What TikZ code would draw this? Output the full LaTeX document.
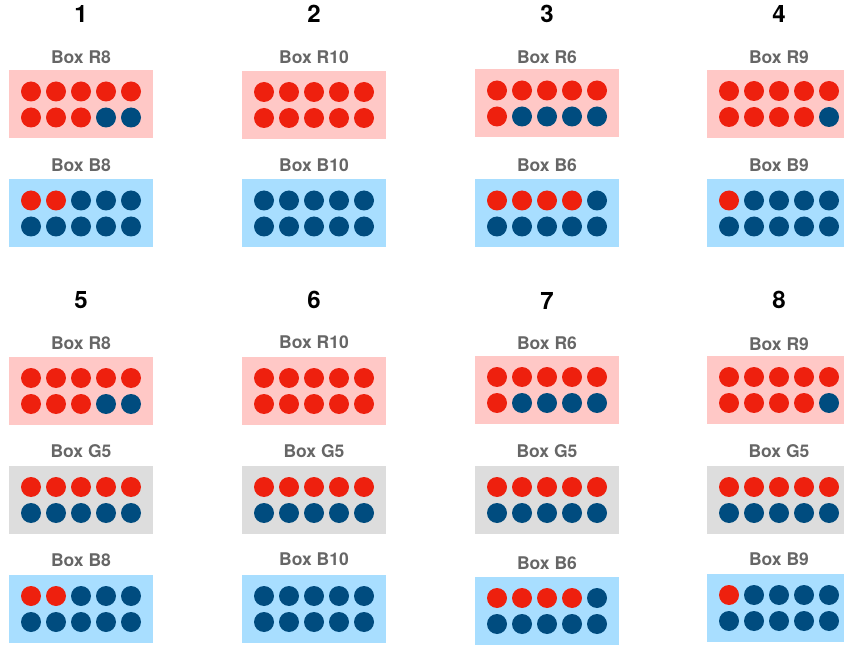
\documentclass[tikz,border=0pt]{standalone}
\usepackage{fontspec}
\setmainfont{TeX Gyre Heros}
\usetikzlibrary{calc}
\definecolor{dotred}{RGB}{238,32,14}
\definecolor{dotblue}{RGB}{0,76,127}
\definecolor{boxpink}{RGB}{255,200,198}
\definecolor{boxblue}{RGB}{168,222,255}
\definecolor{boxgrey}{RGB}{221,221,221}
\definecolor{labgrey}{RGB}{102,102,102}
\tikzset{
  R/.style={fill=dotred},
  B/.style={fill=dotblue},
  panel/.style={draw=none, minimum width=144pt, minimum height=68pt, inner sep=0pt},
  pinkpanel/.style={panel, fill=boxpink},
  bluepanel/.style={panel, fill=boxblue},
  greypanel/.style={panel, fill=boxgrey},
  numlabel/.style={font=\fontsize{24}{28}\selectfont\bfseries, text=black, inner sep=0pt},
  boxlabel/.style={font=\fontsize{17.5}{20}\selectfont\bfseries, text=labgrey, inner sep=0pt}
}
% #1 name, #2 x, #3 y, #4 panel style, #5 top row, #6 bottom row, #7 label text, #8 label y
\newcommand{\dotpanel}[8]{%
  \node[#4] (#1) at (#2,#3) {};
  \node[boxlabel] (#1-lab) at (#2,#8) {#7};
  \foreach \c [count=\i] in {#5} \path[\c] ($(#1.center)+({(\i-3)*25},-13)$) circle (10pt);
  \foreach \c [count=\i] in {#6} \path[\c] ($(#1.center)+({(\i-3)*25},13)$) circle (10pt);
}
\begin{document}
\begin{tikzpicture}[x=1pt,y=-1pt]
\useasboundingbox (0,0) rectangle (844,647);
\clip (0,0) rectangle (844,647);
% ---- top set ----
\node[numlabel] (n1) at (81,14) {1};
\node[numlabel] (n2) at (314,14) {2};
\node[numlabel] (n3) at (547,14) {3};
\node[numlabel] (n4) at (779,14) {4};
\dotpanel{t1r}{81}{104.5}{pinkpanel}{R,R,R,R,R}{R,R,R,B,B}{Box R8}{57}
\dotpanel{t1b}{81}{213.5}{bluepanel}{R,R,B,B,B}{B,B,B,B,B}{Box B8}{165}
\dotpanel{t2r}{314}{105}{pinkpanel}{R,R,R,R,R}{R,R,R,R,R}{Box R10}{57}
\dotpanel{t2b}{314}{213.5}{bluepanel}{B,B,B,B,B}{B,B,B,B,B}{Box B10}{165}
\dotpanel{t3r}{547}{103.5}{pinkpanel}{R,R,R,R,R}{R,B,B,B,B}{Box R6}{57}
\dotpanel{t3b}{547}{213.5}{bluepanel}{R,R,R,R,B}{B,B,B,B,B}{Box B6}{165}
\dotpanel{t4r}{779}{104}{pinkpanel}{R,R,R,R,R}{R,R,R,R,B}{Box R9}{57}
\dotpanel{t4b}{779}{213.5}{bluepanel}{R,B,B,B,B}{B,B,B,B,B}{Box B9}{165}
% ---- bottom set ----
\node[numlabel] (n5) at (81,300) {5};
\node[numlabel] (n6) at (314,300) {6};
\node[numlabel] (n7) at (547,301) {7};
\node[numlabel] (n8) at (779,300) {8};
\dotpanel{b1r}{81}{391}{pinkpanel}{R,R,R,R,R}{R,R,R,B,B}{Box R8}{343}
\dotpanel{b1g}{81}{500}{greypanel}{R,R,R,R,R}{B,B,B,B,B}{Box G5}{451}
\dotpanel{b1b}{81}{609}{bluepanel}{R,R,B,B,B}{B,B,B,B,B}{Box B8}{560}
\dotpanel{b2r}{314}{391}{pinkpanel}{R,R,R,R,R}{R,R,R,R,R}{Box R10}{342}
\dotpanel{b2g}{314}{500}{greypanel}{R,R,R,R,R}{B,B,B,B,B}{Box G5}{451}
\dotpanel{b2b}{314}{609}{bluepanel}{B,B,B,B,B}{B,B,B,B,B}{Box B10}{559}
\dotpanel{b3r}{547}{390}{pinkpanel}{R,R,R,R,R}{R,B,B,B,B}{Box R6}{343}
\dotpanel{b3g}{547}{500}{greypanel}{R,R,R,R,R}{B,B,B,B,B}{Box G5}{451}
\dotpanel{b3b}{547}{611}{bluepanel}{R,R,R,R,B}{B,B,B,B,B}{Box B6}{563}
\dotpanel{b4r}{779}{390}{pinkpanel}{R,R,R,R,R}{R,R,R,R,B}{Box R9}{344}
\dotpanel{b4g}{779}{500}{greypanel}{R,R,R,R,R}{B,B,B,B,B}{Box G5}{451}
\dotpanel{b4b}{779}{608}{bluepanel}{R,B,B,B,B}{B,B,B,B,B}{Box B9}{559}
\end{tikzpicture}
\end{document}
